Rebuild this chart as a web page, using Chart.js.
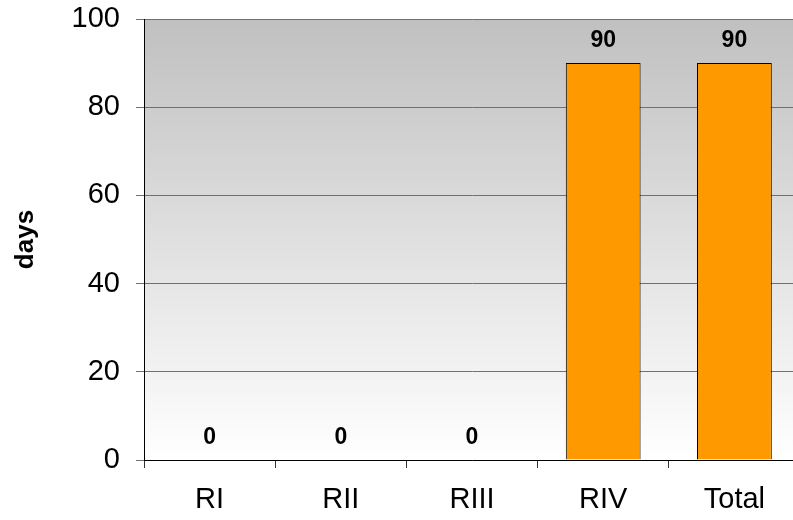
<!DOCTYPE html>
<html>
<head>
<meta charset="utf-8">
<script src="https://cdn.jsdelivr.net/npm/chart.js@4.4.1/dist/chart.umd.min.js"></script>
<style>
  html, body { margin: 0; padding: 0; background: #fff; overflow: hidden; }
  #wrap { width: 800px; height: 520px; }
</style>
</head>
<body>
<div id="wrap"><canvas id="chart" width="800" height="520"></canvas></div>
<script>
const categories = ['RI', 'RII', 'RIII', 'RIV', 'Total'];
const daysValues = [0, 0, 0, 90, 90];
const yTicks = [0, 20, 40, 60, 80, 100];

// gradient behind the plot area, grey at top to white at bottom
const plotBackground = {
    id: 'plotBackground',
    beforeDraw(chart) {
        const { ctx, chartArea: a } = chart;
        const g = ctx.createLinearGradient(0, a.top, 0, a.bottom);
        g.addColorStop(0, '#c0c0c0');
        g.addColorStop(1, '#ffffff');
        ctx.save();
        ctx.fillStyle = g;
        ctx.fillRect(a.left, a.top, a.right - a.left, a.bottom - a.top);
        ctx.restore();
    }
};

// bold value labels above each bar
const valueLabels = {
    id: 'valueLabels',
    afterDatasetsDraw(chart) {
        const ctx = chart.ctx;
        const meta = chart.getDatasetMeta(0);
        ctx.save();
        ctx.font = 'bold 23px "Liberation Sans", Arial, sans-serif';
        ctx.fillStyle = '#000';
        ctx.textAlign = 'center';
        ctx.textBaseline = 'middle';
        meta.data.forEach((bar, i) => {
            ctx.fillText(String(daysValues[i]), bar.x, bar.y - 22);
        });
        ctx.restore();
    }
};

new Chart(document.getElementById('chart'), {
    type: 'bar',
    data: {
        labels: categories,
        datasets: [{
            data: daysValues,
            backgroundColor: '#ff9900',
            borderColor: '#000',
            borderWidth: 1,
            categoryPercentage: 1,
            barPercentage: 0.57
        }]
    },
    options: {
        responsive: false,
        animation: false,
        devicePixelRatio: 1,
        layout: { padding: { top: 19, left: 0, right: 0, bottom: 0 } },
        plugins: {
            legend: { display: false },
            tooltip: { enabled: false }
        },
        scales: {
            x: {
                grid: {
                    offset: true,
                    drawOnChartArea: false,
                    drawTicks: true,
                    tickLength: 8,
                    tickColor: '#333'
                },
                border: { color: '#000', width: 1 },
                ticks: {
                    color: '#000',
                    padding: 15,
                    font: { family: '"Liberation Sans", Arial, sans-serif', size: 29 }
                },
                afterFit(scale) {
                    scale.height = 60;
                    scale.paddingLeft = 0;
                    scale.paddingRight = 0;
                }
            },
            y: {
                min: 0,
                max: 100,
                afterBuildTicks(scale) {
                    scale.ticks = yTicks.map(v => ({ value: v }));
                },
                grid: {
                    color: '#707070',
                    lineWidth: 1,
                    tickLength: 8,
                    tickColor: '#707070'
                },
                border: { color: '#000', width: 1 },
                ticks: {
                    color: '#000',
                    padding: 16,
                    font: { family: '"Liberation Sans", Arial, sans-serif', size: 29 }
                },
                title: {
                    display: true,
                    text: 'days',
                    color: '#000',
                    padding: { top: 10, bottom: 0 },
                    font: { family: '"Liberation Sans", Arial, sans-serif', size: 26, weight: 'bold' }
                },
                afterFit(scale) {
                    scale.width = 144;
                    scale.paddingTop = 0;
                    scale.paddingBottom = 0;
                }
            }
        }
    },
    plugins: [plotBackground, valueLabels]
});
</script>
</body>
</html>
